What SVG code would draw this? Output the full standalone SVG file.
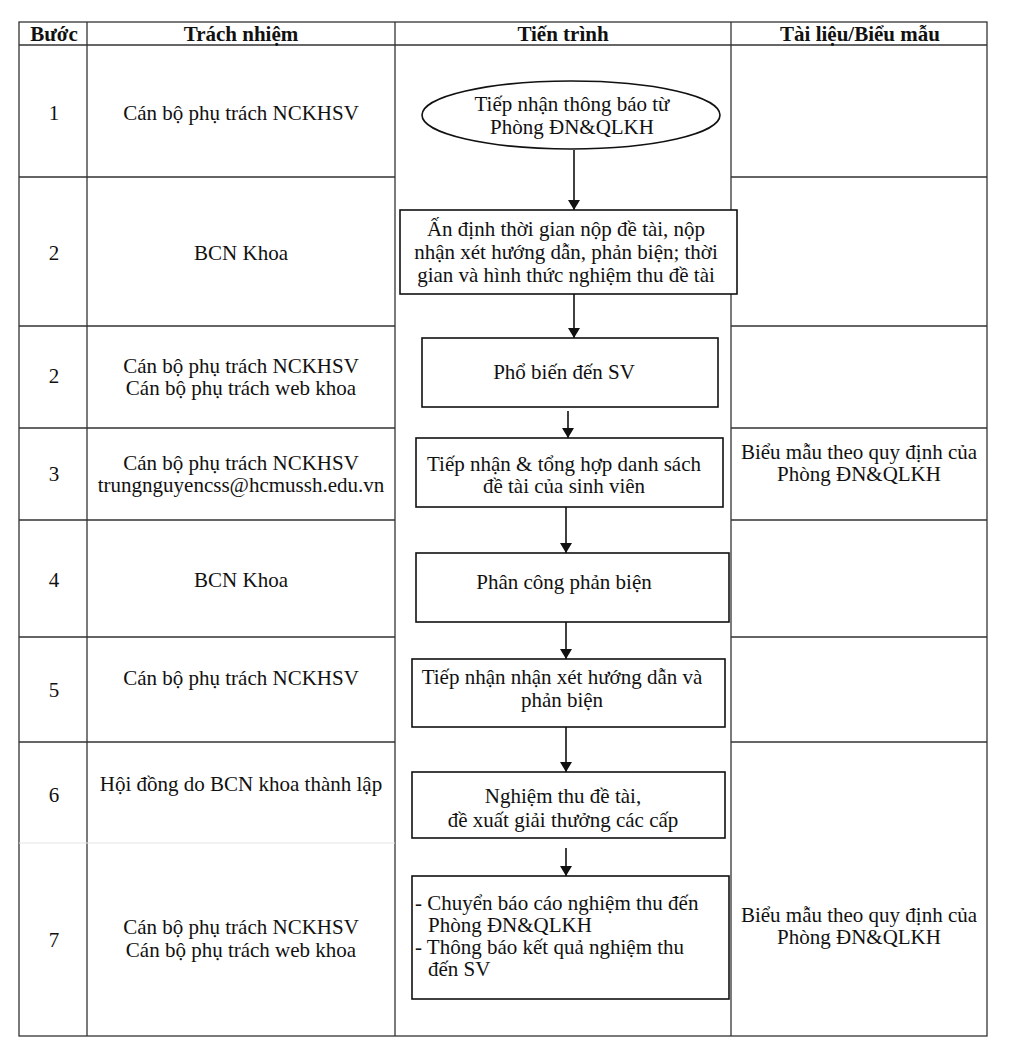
<svg xmlns="http://www.w3.org/2000/svg" width="1024" height="1062" viewBox="0 0 1024 1062">
<defs>
<style>
text{font-family:"Liberation Serif","Times New Roman",serif;font-size:21px;fill:#111}
.h{font-weight:bold}
.c{text-anchor:middle}
.grid{stroke:#333;stroke-width:1.3;fill:none}
.faint{stroke:#e4e4e4;stroke-width:1;fill:none}
.box{fill:#fff;stroke:#111;stroke-width:1.6}
.conn{stroke:#111;stroke-width:1.6;fill:none}
</style>
<marker id="arr" viewBox="0 0 10 12" refX="10" refY="6" markerWidth="10" markerHeight="12" markerUnits="userSpaceOnUse" orient="auto">
<path d="M0,0 L10,6 L0,12 z" fill="#111"/>
</marker>
</defs>
<rect width="1024" height="1062" fill="#fff"/>
<g id="table">
<rect class="grid" x="19" y="22" width="968" height="1014"/>
<line class="grid" x1="87" y1="22" x2="87" y2="1036"/>
<line class="grid" x1="395" y1="22" x2="395" y2="1036"/>
<line class="grid" x1="731" y1="22" x2="731" y2="1036"/>
<line class="grid" x1="19" y1="45" x2="987" y2="45"/>
<path class="grid" d="M19 177H395M19 326H395M19 428H395M19 520H395M19 637H395M19 742H395"/>
<path class="grid" d="M731 177H987M731 326H987M731 428H987M731 520H987M731 637H987M731 742H987"/>
<line class="faint" x1="19" y1="843" x2="395" y2="843"/>
</g>
<g id="header">
<text class="h c" x="54" y="41">Bước</text>
<text class="h c" x="241" y="41">Trách nhiệm</text>
<text class="h c" x="563" y="41">Tiến trình</text>
<text class="h c" x="860" y="41">Tài liệu/Biểu mẫu</text>
</g>
<g id="steps">
<text class="c" x="54" y="120">1</text>
<text class="c" x="54" y="260">2</text>
<text class="c" x="54" y="383">2</text>
<text class="c" x="54" y="481">3</text>
<text class="c" x="54" y="587">4</text>
<text class="c" x="54" y="697">5</text>
<text class="c" x="54" y="802">6</text>
<text class="c" x="54" y="947">7</text>
</g>
<g id="responsibility">
<text class="c" x="241" y="120">Cán bộ phụ trách NCKHSV</text>
<text class="c" x="241" y="260">BCN Khoa</text>
<text class="c" x="241" y="373">Cán bộ phụ trách NCKHSV</text>
<text class="c" x="241" y="395">Cán bộ phụ trách web khoa</text>
<text class="c" x="241" y="470">Cán bộ phụ trách NCKHSV</text>
<text class="c" x="241" y="492">trungnguyencss@hcmussh.edu.vn</text>
<text class="c" x="241" y="587">BCN Khoa</text>
<text class="c" x="241" y="685">Cán bộ phụ trách NCKHSV</text>
<text class="c" x="241" y="791">Hội đồng do BCN khoa thành lập</text>
<text class="c" x="241" y="934">Cán bộ phụ trách NCKHSV</text>
<text class="c" x="241" y="957">Cán bộ phụ trách web khoa</text>
</g>
<g id="documents">
<text class="c" x="859" y="459">Biểu mẫu theo quy định của</text>
<text class="c" x="859" y="481">Phòng ĐN&amp;QLKH</text>
<text class="c" x="859" y="922">Biểu mẫu theo quy định của</text>
<text class="c" x="859" y="944">Phòng ĐN&amp;QLKH</text>
</g>
<g id="connectors">
<line class="conn" x1="574" y1="150" x2="574" y2="210" marker-end="url(#arr)"/>
<line class="conn" x1="574" y1="294" x2="574" y2="338" marker-end="url(#arr)"/>
<line class="conn" x1="568" y1="411" x2="568" y2="438" marker-end="url(#arr)"/>
<line class="conn" x1="566" y1="507" x2="566" y2="553" marker-end="url(#arr)"/>
<line class="conn" x1="566" y1="622" x2="566" y2="659" marker-end="url(#arr)"/>
<line class="conn" x1="566" y1="727" x2="566" y2="772" marker-end="url(#arr)"/>
<line class="conn" x1="566" y1="848" x2="566" y2="876" marker-end="url(#arr)"/>
</g>
<g id="n1">
<ellipse class="box" cx="571" cy="115" rx="149" ry="34"/>
<text class="c" x="572" y="111">Tiếp nhận thông báo từ</text>
<text class="c" x="572" y="134">Phòng ĐN&amp;QLKH</text>
</g>
<g id="n2">
<rect class="box" x="400" y="210" width="337" height="84"/>
<text class="c" x="566" y="236">Ấn định thời gian nộp đề tài, nộp</text>
<text class="c" x="566" y="259">nhận xét hướng dẫn, phản biện; thời</text>
<text class="c" x="566" y="282">gian và hình thức nghiệm thu đề tài</text>
</g>
<g id="n3">
<rect class="box" x="422" y="338" width="296" height="69"/>
<text class="c" x="564" y="379">Phổ biến đến SV</text>
</g>
<g id="n4">
<rect class="box" x="416" y="438" width="307" height="69"/>
<text class="c" x="564" y="471">Tiếp nhận &amp; tổng hợp danh sách</text>
<text class="c" x="564" y="493">đề tài của sinh viên</text>
</g>
<g id="n5">
<rect class="box" x="416" y="553" width="313" height="69"/>
<text class="c" x="564" y="589">Phân công phản biện</text>
</g>
<g id="n6">
<rect class="box" x="412" y="659" width="313" height="68"/>
<text class="c" x="562" y="684">Tiếp nhận nhận xét hướng dẫn và</text>
<text class="c" x="562" y="707">phản biện</text>
</g>
<g id="n7">
<rect class="box" x="412" y="772" width="313" height="66"/>
<text class="c" x="563" y="803">Nghiệm thu đề tài,</text>
<text class="c" x="563" y="827">đề xuất giải thưởng các cấp</text>
</g>
<g id="n8">
<rect class="box" x="412" y="876" width="317" height="123"/>
<text x="415" y="910">- Chuyển báo cáo nghiệm thu đến</text>
<text x="428" y="932">Phòng ĐN&amp;QLKH</text>
<text x="415" y="954">- Thông báo kết quả nghiệm thu</text>
<text x="428" y="976">đến SV</text>
</g>
</svg>
